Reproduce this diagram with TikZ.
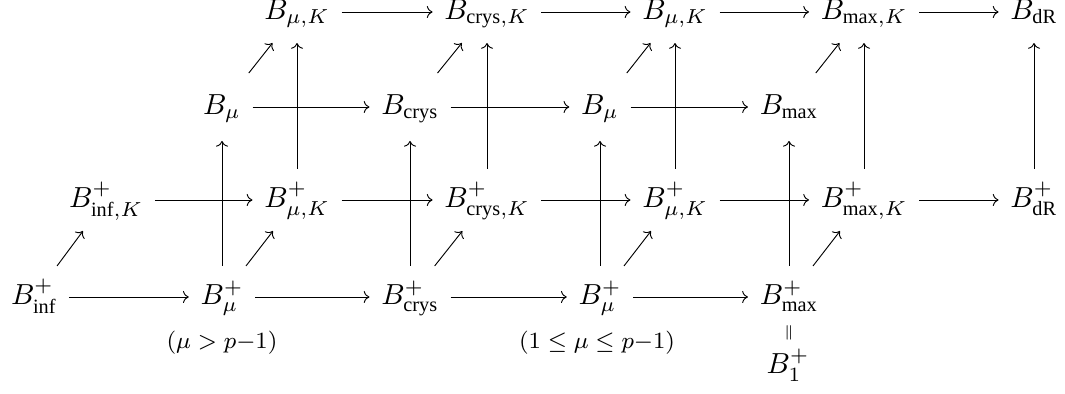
\documentclass[tikz,border=0pt]{standalone}
\usepackage{amsmath}
\usepackage[no-math]{fontspec}
\newfontfamily\tmsfont{Liberation Serif}
\newcommand{\tm}[1]{\text{\tmsfont #1}}
\usetikzlibrary{cd}
\begin{document}
\begin{tikzpicture}[x=0.3448pt,y=-0.3448pt,
  obj/.style={inner xsep=3.9pt,inner ysep=0pt,text height=13pt,text depth=8pt},
  objb/.style={obj,text height=14pt,text depth=9pt},
  ar/.style={-{cm to},line width=0.32pt},
  lab/.style={inner sep=0pt,anchor=base,font=\footnotesize}]
\useasboundingbox (0,0) rectangle (1065,394);
% row 1
\node[obj] (a1) at (297,12) {$B_{\mu,K}$};
\node[obj] (a2) at (487,12) {$B_{\tm{crys},K}$};
\node[obj] (a3) at (675,12) {$B_{\mu,K}$};
\node[obj] (a4) at (864,12) {$B_{\tm{max},K}$};
\node[obj] (a5) at (1034,12) {$B_{\tm{dR}}$};
% row 2
\node[objb] (b1) at (222,107) {$B_{\mu}$};
\node[objb] (b2) at (410,107) {$B_{\tm{crys}}$};
\node[objb] (b3) at (600,107) {$B_{\mu}$};
\node[objb] (b4) at (789,107) {$B_{\tm{max}}$};
% row 3
\node[obj] (c0) at (106,200) {$B^+_{\tm{inf},K}$};
\node[obj] (c1) at (297,200) {$B^+_{\mu,K}$};
\node[obj] (c2) at (487,200) {$B^+_{\tm{crys},K}$};
\node[obj] (c3) at (675,200) {$B^+_{\mu,K}$};
\node[obj] (c4) at (864,200) {$B^+_{\tm{max},K}$};
\node[obj] (c5) at (1034,200) {$B^+_{\tm{dR}}$};
% row 4
\node[obj] (d0) at (34,297) {$B^+_{\tm{inf}}$};
\node[obj] (d1) at (222,297) {$B^+_{\mu}$};
\node[obj] (d2) at (410,297) {$B^+_{\tm{crys}}$};
\node[obj] (d3) at (600,297) {$B^+_{\mu}$};
\node[obj] (d4) at (789,297) {$B^+_{\tm{max}}$};
% labels
\node[lab] (l1) at (222,349) {$(\mu>p{-}1)$};
\node[lab] (l2) at (597,349) {$(1\le\mu\le p{-}1)$};
\node[inner sep=0pt] (eq) at (789,333) {$\scriptscriptstyle\|$};
\node[inner sep=0pt,anchor=base] (e1) at (788,374) {$B^+_1$};
% horizontal arrows
\draw[ar] (a1) -- (a2); \draw[ar] (a2) -- (a3); \draw[ar] (a3) -- (a4); \draw[ar] (a4) -- (a5);
\draw[ar] (b1) -- (b2); \draw[ar] (b2) -- (b3); \draw[ar] (b3) -- (b4);
\draw[ar] (c0) -- (c1); \draw[ar] (c1) -- (c2); \draw[ar] (c2) -- (c3); \draw[ar] (c3) -- (c4); \draw[ar] (c4) -- (c5);
\draw[ar] (d0) -- (d1); \draw[ar] (d1) -- (d2); \draw[ar] (d2) -- (d3); \draw[ar] (d3) -- (d4);
% vertical arrows
\draw[ar] (d1) -- (b1); \draw[ar] (d2) -- (b2); \draw[ar] (d3) -- (b3); \draw[ar] (d4) -- (b4);
\draw[ar] (c1) -- (a1); \draw[ar] (c2) -- (a2); \draw[ar] (c3) -- (a3); \draw[ar] (c4) -- (a4); \draw[ar] (c5) -- (a5);
% diagonal arrows
\draw[ar] (d0) -- (c0); \draw[ar] (d1) -- (c1); \draw[ar] (d2) -- (c2); \draw[ar] (d3) -- (c3); \draw[ar] (d4) -- (c4);
\draw[ar] (b1) -- (a1); \draw[ar] (b2) -- (a2); \draw[ar] (b3) -- (a3); \draw[ar] (b4) -- (a4);
\end{tikzpicture}
\end{document}
